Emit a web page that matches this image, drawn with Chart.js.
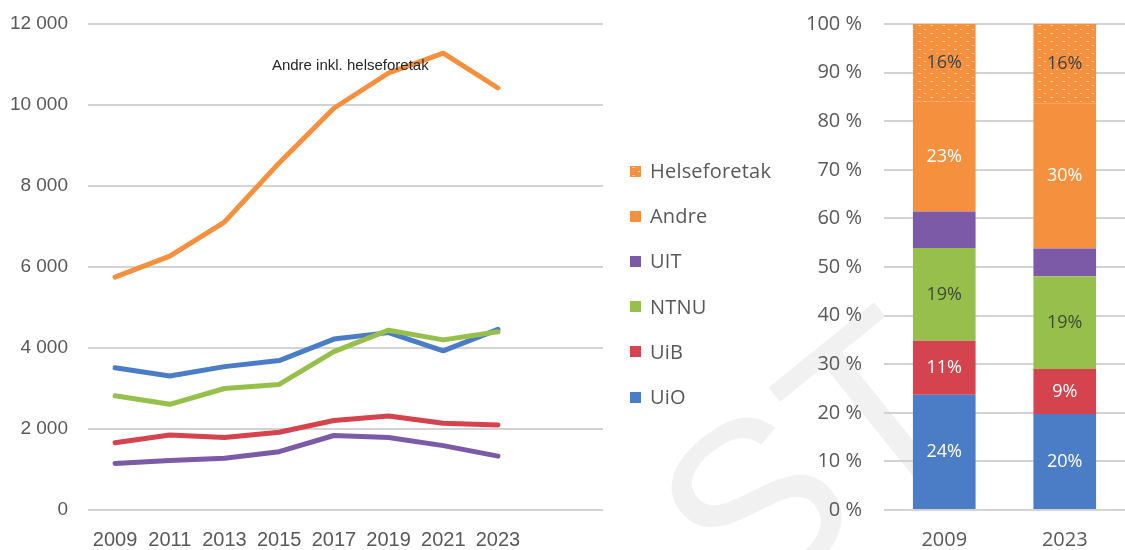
<!DOCTYPE html>
<html>
<head>
<meta charset="utf-8">
<script src="https://cdn.jsdelivr.net/npm/chart.js@4.4.1/dist/chart.umd.min.js"></script>
<style>
  html, body { margin: 0; padding: 0; background: #fff; overflow: hidden; }
  #wrap { position: relative; width: 1125px; height: 550px; }
  #lineChart { position: absolute; left: 0; top: 0; }
  #barChart { position: absolute; left: 640px; top: 0; }
  #legend { position: absolute; left: 630px; top: 0; font-family: "Open Sans", sans-serif; font-size: 20px; letter-spacing: 0.2px; color: #595959; }
  .item { position: absolute; left: 0; height: 24px; line-height: 24px; white-space: nowrap; display: flex; align-items: center; }
  .sw { width: 11px; height: 11px; margin-right: 9px; }
</style>
</head>
<body>
<div id="wrap">
  <canvas id="lineChart" width="620" height="550"></canvas>
  <canvas id="barChart" width="485" height="550"></canvas>
  <div id="legend"></div>
</div>
<script>
// Line chart data (antall)
const years = [2009, 2011, 2013, 2015, 2017, 2019, 2021, 2023];
const andreInkl = [5750, 6270, 7110, 8570, 9920, 10790, 11280, 10420];
const uio = [3510, 3310, 3540, 3690, 4220, 4380, 3930, 4460];
const ntnu = [2820, 2610, 3000, 3100, 3910, 4440, 4200, 4400];
const uib = [1660, 1850, 1790, 1920, 2210, 2320, 2140, 2100];
const uit = [1150, 1220, 1280, 1440, 1840, 1790, 1590, 1330];
const annotText = "Andre inkl. helseforetak";
const annotAt = [2017.6, 10960];

// Stacked share chart data (%)
const shareYears = ["2009", "2023"];
const shareUiO = [23.7, 19.75];
const shareUiB = [11.1, 9.25];
const shareNTNU = [19.1, 19.1];
const shareUIT = [7.5, 5.7];
const shareAndre = [22.6, 29.8];
const shareHelse = [16.0, 16.4];

const ORANGE = "#F5913E";
const BLUE = "#4A7DC6";
const GREEN = "#96C04B";
const RED = "#D4434E";
const PURPLE = "#7D5AA8";
const TXT = "#595959";
const GRID = "#d3d3d3";

// dotted orange fill for Helseforetak
const patCanvas = document.createElement("canvas");
patCanvas.width = 12;
patCanvas.height = 8;
const pg = patCanvas.getContext("2d");
pg.fillStyle = ORANGE;
pg.fillRect(0, 0, 12, 8);
pg.fillStyle = "rgba(255,240,215,0.6)";
pg.fillRect(2, 1, 3, 1);
pg.fillRect(8, 5, 2, 1);
const helsePattern = pg.createPattern(patCanvas, "repeat");

function fmtThousands(v) {
  return String(v).replace(/\B(?=(\d{3})+(?!\d))/g, " ");
}

function lineSet(label, data, color) {
  return {
    label: label,
    data: data.map((v, i) => ({ x: years[i], y: v })),
    borderColor: color,
    borderWidth: 5,
    borderCapStyle: "round",
    borderJoinStyle: "round",
    pointRadius: 0,
    tension: 0,
    fill: false,
  };
}

// keep the plot area exactly where the reference has it
function fixY(width) {
  return (s) => { s.width = width; s.paddingTop = 0; s.paddingBottom = 0; };
}

const annotPlugin = {
  id: "annot",
  afterDraw(chart) {
    const ctx = chart.ctx;
    const x = chart.scales.x.getPixelForValue(annotAt[0]);
    const y = chart.scales.y.getPixelForValue(annotAt[1]);
    ctx.save();
    ctx.font = "15px 'Liberation Sans'";
    ctx.fillStyle = "#262626";
    ctx.textAlign = "center";
    ctx.textBaseline = "middle";
    ctx.fillText(annotText, x, y, 167);
    ctx.restore();
  },
};

new Chart(document.getElementById("lineChart"), {
  type: "line",
  data: {
    datasets: [
      lineSet("Andre inkl. helseforetak", andreInkl, ORANGE),
      lineSet("NTNU", ntnu, GREEN),
      lineSet("UiO", uio, BLUE),
      lineSet("UiB", uib, RED),
      lineSet("UIT", uit, PURPLE),
    ],
  },
  options: {
    responsive: false,
    animation: false,
    layout: { padding: { top: 24, right: 17, bottom: 0, left: 0 } },
    plugins: { legend: { display: false }, tooltip: { enabled: false } },
    scales: {
      x: {
        type: "linear",
        min: 2008.01,
        max: 2026.84,
        afterBuildTicks: (s) => { s.ticks = years.map((v) => ({ value: v })); },
        afterFit: (s) => { s.height = 40; },
        grid: { display: false, drawTicks: false },
        border: { display: false },
        ticks: {
          padding: 18,
          color: TXT,
          font: { family: "Liberation Sans", size: 20 },
          callback: (v) => String(v),
        },
      },
      y: {
        min: 0,
        max: 12000,
        afterFit: fixY(88),
        grid: { color: GRID, lineWidth: 2, drawTicks: false },
        border: { display: false },
        ticks: {
          stepSize: 2000,
          padding: 20,
          color: TXT,
          font: { family: "Liberation Sans", size: 19 },
          callback: (v) => fmtThousands(v),
        },
      },
    },
  },
  plugins: [annotPlugin],
});

// watermark + segment labels for the share chart
const watermarkPlugin = {
  id: "watermark",
  beforeDraw(chart) {
    const ctx = chart.ctx;
    ctx.save();
    ctx.translate(184, 348);
    ctx.rotate(-39 * Math.PI / 180);
    ctx.font = "240px 'Liberation Sans'";
    ctx.fillStyle = "#f1f1f1";
    ctx.textBaseline = "alphabetic";
    ctx.textAlign = "center";
    ctx.fillText("T", 0, 161);
    ctx.textAlign = "right";
    ctx.fillText("S", -73, 161);
    ctx.restore();
  },
};

const segLabelPlugin = {
  id: "segLabels",
  afterDatasetsDraw(chart) {
    const ctx = chart.ctx;
    ctx.save();
    ctx.font = "18px 'Open Sans'";
    ctx.textAlign = "center";
    ctx.textBaseline = "middle";
    chart.data.datasets.forEach((ds, i) => {
      if (!ds.labelColor) return;
      chart.getDatasetMeta(i).data.forEach((bar, j) => {
        const c = bar.getCenterPoint();
        ctx.fillStyle = ds.labelColor;
        ctx.fillText(Math.round(ds.data[j]) + "%", c.x, c.y);
      });
    });
    ctx.restore();
  },
};

function barSet(label, data, color, labelColor) {
  return { label: label, data: data, backgroundColor: color, borderWidth: 0, labelColor: labelColor };
}

const barDatasets = [
  barSet("UiO", shareUiO, BLUE, "#ffffff"),
  barSet("UiB", shareUiB, RED, "#ffffff"),
  barSet("NTNU", shareNTNU, GREEN, "#3f4a33"),
  barSet("UIT", shareUIT, PURPLE, null),
  barSet("Andre", shareAndre, ORANGE, "#ffffff"),
  barSet("Helseforetak", shareHelse, helsePattern, "#404040"),
];

new Chart(document.getElementById("barChart"), {
  type: "bar",
  data: { labels: shareYears, datasets: barDatasets },
  options: {
    responsive: false,
    animation: false,
    layout: { padding: { top: 24, right: 0, bottom: 0, left: 0 } },
    plugins: { legend: { display: false }, tooltip: { enabled: false } },
    datasets: { bar: { categoryPercentage: 1, barPercentage: 0.52 } },
    scales: {
      x: {
        stacked: true,
        afterFit: (s) => { s.height = 40; },
        grid: { display: false, drawTicks: false },
        border: { display: false },
        ticks: { padding: 18, color: TXT, font: { family: "Open Sans", size: 20 } },
      },
      y: {
        stacked: true,
        min: 0,
        max: 100,
        afterFit: fixY(244),
        grid: { color: GRID, lineWidth: 2, drawTicks: false },
        border: { display: false },
        ticks: {
          stepSize: 10,
          padding: 22,
          color: TXT,
          font: { family: "Open Sans", size: 20 },
          callback: (v) => v + " %",
        },
      },
    },
  },
  plugins: [watermarkPlugin, segLabelPlugin],
});

// legend, top item first (reverse stack order)
const legendEl = document.getElementById("legend");
const patUrl = patCanvas.toDataURL();
barDatasets.slice().reverse().forEach((ds, i) => {
  const item = document.createElement("div");
  item.className = "item";
  item.style.top = (171 + i * 45.2 - 12) + "px";
  const sw = document.createElement("span");
  sw.className = "sw";
  if (typeof ds.backgroundColor === "string") sw.style.background = ds.backgroundColor;
  else sw.style.background = "url(" + patUrl + ")";
  const tx = document.createElement("span");
  tx.textContent = ds.label;
  item.appendChild(sw);
  item.appendChild(tx);
  legendEl.appendChild(item);
});
</script>
</body>
</html>
